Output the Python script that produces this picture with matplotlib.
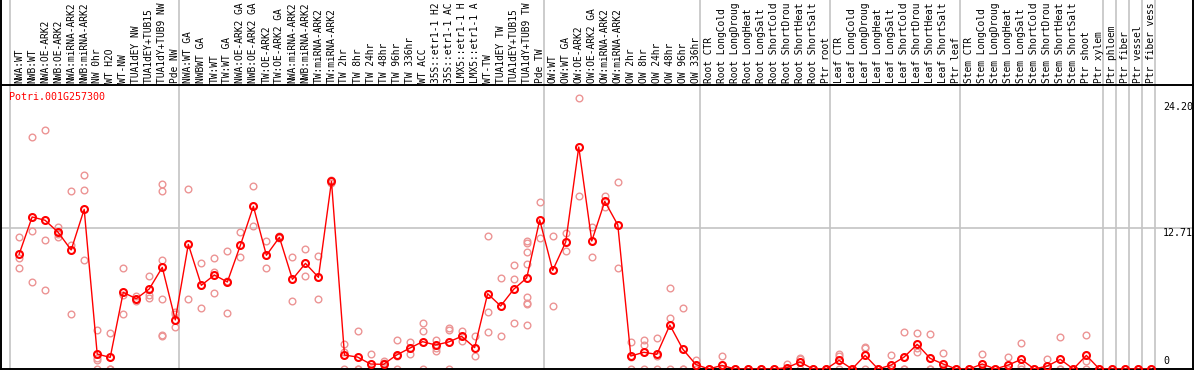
#!/usr/bin/env python3

import matplotlib
matplotlib.use("Agg")
import matplotlib.pyplot as plt
from matplotlib.lines import Line2D

# sample labels, as printed (cut to 14 chars)
labels = [
    "NWA:WT", "NWB:WT", "NWA:OE-ARK2", "NWB:OE-ARK2", "NWA:miRNA-ARK2",
    "NWB:miRNA-ARK2", "NW 0hr", "WT H2O", "WT-NW", "TUA1dEY NW",
    "TUA1dEY+TUB15", "TUA1dY+TUB9 NW", "Pde NW",
    "NWA:WT GA", "NWBWT GA", "TW:WT", "TW:WT GA", "NWA:OE-ARK2 GA",
    "NWB:OE-ARK2 GA", "TW:OE-ARK2", "TW:OE-ARK2 GA", "NWA:miRNA-ARK2",
    "NWB:miRNA-ARK2", "TW:miRNA-ARK2", "TW:miRNA-ARK2", "TW 2hr", "TW 8hr",
    "TW 24hr", "TW 48hr", "TW 96hr", "TW 336hr", "WT ACC",
    "35S::etr1-1 H2", "35S::etr1-1 AC", "LMX5::etr1-1 H", "LMX5::etr1-1 A",
    "WT-TW", "TUA1dEY TW", "TUA1dEY+TUB15", "TUA1dY+TUB9 TW", "Pde TW",
    "OW:WT", "OW:WT GA", "OW:OE-ARK2", "OW:OE-ARK2 GA", "OW:miRNA-ARK2",
    "OW:miRNA-ARK2", "OW 2hr", "OW 8hr", "OW 24hr", "OW 48hr", "OW 96hr",
    "OW 336hr",
    "Root CTR", "Root LongCold", "Root LongDroug", "Root LongHeat",
    "Root LongSalt", "Root ShortCold", "Root ShortDrou", "Root ShortHeat",
    "Root ShortSalt", "Ptr root",
    "Leaf CTR", "Leaf LongCold", "Leaf LongDroug", "Leaf LongHeat",
    "Leaf LongSalt", "Leaf ShortCold", "Leaf ShortDrou", "Leaf ShortHeat",
    "Leaf ShortSalt", "Ptr leaf",
    "Stem CTR", "Stem LongCold", "Stem LongDroug", "Stem LongHeat",
    "Stem LongSalt", "Stem ShortCold", "Stem ShortDrou", "Stem ShortHeat",
    "Stem ShortSalt", "Ptr shoot", "Ptr xylem",
    "Ptr phloem", "Ptr fiber", "Ptr vessel", "Ptr fiber vess",
]

# first index of each sample group
group_starts = [0, 13, 41, 53, 63, 73, 84, 85, 86, 87, 88]

means = [
    10.36, 13.73, 13.43, 12.34, 10.75, 14.42, 1.35, 1.05, 6.92, 6.35,
    7.23, 9.18, 4.43,
    11.26, 7.56, 8.49, 7.86, 11.17, 14.69, 10.27, 11.89, 8.10, 9.54,
    8.28, 16.95, 1.26, 1.08, 0.45, 0.42, 1.26, 1.87, 2.47, 2.17,
    2.44, 2.95, 1.93, 6.80, 5.69, 7.20, 8.22, 13.46,
    8.91, 11.47, 20.05, 11.56, 15.14, 13.01, 1.17, 1.51, 1.32, 3.97,
    1.78, 0.40,
    0.0, 0.33, 0.0, 0.0, 0.0, 0.0, 0.12, 0.63, 0.0, 0.0,
    0.78, 0.0, 1.23, 0.0, 0.36, 1.08, 2.23, 0.96, 0.45, 0.0,
    0.0, 0.45, 0.0, 0.36, 0.87, 0.0, 0.27, 0.87, 0.0, 1.23, 0.0,
    0.0, 0.0, 0.0, 0.0,
]

replicates = [
    [11.89, 10.06, 9.12], [20.92, 12.46, 7.83], [21.56, 11.65, 7.14],
    [12.85, 11.95, 12.22], [16.05, 11.23, 4.97], [17.49, 16.14, 9.84],
    [3.49, 0.96, 0.78, 0.0], [3.25, 0.0, 0.0], [9.12, 6.67, 4.97],
    [6.55, 6.35, 6.15], [8.40, 6.68, 6.38],
    [16.71, 16.05, 9.84, 6.32, 3.07, 2.95], [5.18, 4.94, 3.76],
    [16.23, 6.32], [9.54, 5.48], [10.03, 8.73, 6.83], [10.63, 7.92, 5.03],
    [12.37, 10.09], [16.50, 12.92], [11.53, 9.12], [12.0, 11.8],
    [10.09, 6.11], [10.84, 8.37], [10.18, 6.32], [17.1, 16.8],
    [2.26, 1.57, 0.0], [3.40, 0.0, 0.0], [1.32, 0.0, 0.0],
    [0.72, 0.54, 0.0], [2.59, 1.19, 0.0], [2.44, 1.32],
    [4.15, 3.40, 0.0], [2.65, 1.87, 1.66], [3.73, 3.52, 0.0],
    [3.40, 2.53], [2.95, 1.20], [11.98, 5.18, 3.31], [8.19, 2.95],
    [9.36, 8.10, 4.15],
    [11.56, 11.40, 10.54, 9.48, 6.53, 5.99, 5.90, 3.97], [15.06, 11.80],
    [11.98, 5.69], [12.28, 10.63], [24.45, 15.63], [12.80, 10.14],
    [15.63, 14.66], [16.86, 9.12], [2.41, 1.10, 0.0], [2.62, 2.17, 0.0],
    [2.77, 1.20, 0.0], [7.32, 4.64, 0.0], [5.48, 0.0, 0.0],
    [0.78, 0.40, 0.0],
    [0, 0, 0], [1.17, 0, 0], [0, 0, 0], [0, 0, 0], [0, 0, 0], [0, 0, 0],
    [0.48, 0, 0], [1.02, 0.87, 0], [0, 0, 0], [0, 0, 0],
    [1.32, 1.17, 0], [0, 0, 0], [2.02, 1.87, 0], [0, 0, 0], [1.29, 0, 0],
    [3.31, 0, 0], [3.25, 1.87, 1.57], [3.16, 0, 0], [1.45, 0, 0], [0, 0, 0],
    [0, 0, 0], [1.35, 0, 0], [0, 0, 0], [1.08, 0, 0], [2.32, 0.3, 0],
    [0, 0, 0], [0.87, 0, 0], [2.86, 0, 0], [0, 0, 0], [3.07, 0.72, 0],
    [0, 0, 0],
    [0, 0, 0], [0, 0, 0], [0, 0, 0], [0, 0, 0],
]

gene_id = "Potri.001G257300"
y_ticks = [24.20, 12.71, 0]
y_tick_labels = ["24.20", "12.71", "0"]

W, H = 1194, 370
FONT = "DejaVu Sans Mono"
GRAY = "#c4c4c4"


def fx(px):
    return px / W


def fy(py):
    # pixel row from top -> figure fraction
    return 1 - py / H


def main():
    fig = plt.figure(figsize=(W / 100, H / 100), dpi=100)

    top_px, bottom_px = 85, 369
    ax = fig.add_axes([fx(1), fy(bottom_px), fx(1192), (bottom_px - top_px) / H])

    # one category is ~13 px wide, first point at 10 + 0.7 * 13 px
    step = 13.015
    ax.set_xlim((1 - 10) / step - 0.7, (1193 - 10) / step - 0.7)
    ax.set_ylim(0, 25.65)
    ax.set_xticks([])
    ax.set_yticks([])
    for sp in ax.spines.values():
        sp.set_linewidth(1.4)
        sp.set_color("black")

    ext = bottom_px / (bottom_px - top_px)
    for k in group_starts:
        ax.axvline(k - 0.7, ymin=0, ymax=ext, color=GRAY, lw=1.2,
                   clip_on=False, zorder=1)
    ax.axhline(12.71, color=GRAY, lw=1.2, zorder=1)

    xs = list(range(len(means)))
    for i, reps in enumerate(replicates):
        ax.plot([i] * len(reps), reps, "o", ms=4.8, mfc="none",
                mec="#ec9494", mew=1.0, zorder=2)

    ax.plot(xs, means, "-", color="red", lw=1.0, zorder=3)
    ax.plot(xs, means, "o", ms=5.0, mfc="none", mec="red", mew=1.5,
            zorder=4)

    # sample names above the plot
    for i, lab in enumerate(labels):
        x_px = 10 + step * (i + 0.7)
        fig.text(fx(x_px), fy(83), lab, rotation=90, ha="center",
                 va="bottom", family=FONT, fontsize=6.9)

    # frame of the label strip
    for x_px in (1, 1193):
        fig.add_artist(Line2D([fx(x_px), fx(x_px)], [fy(top_px), 1],
                              color="black", lw=1.4))

    fig.text(fx(9.5), fy(97.5), gene_id, color="red", ha="left",
             va="center", family=FONT, fontsize=7.2)

    label_rows = [107.5, 232.5, 361.5]
    for lab, row in zip(y_tick_labels, label_rows):
        fig.text(fx(1163), fy(row), lab, ha="left", va="center",
                 family=FONT, fontsize=7.2)

    fig.savefig("out.png", dpi=100)
    plt.close(fig)


if __name__ == "__main__":
    main()
